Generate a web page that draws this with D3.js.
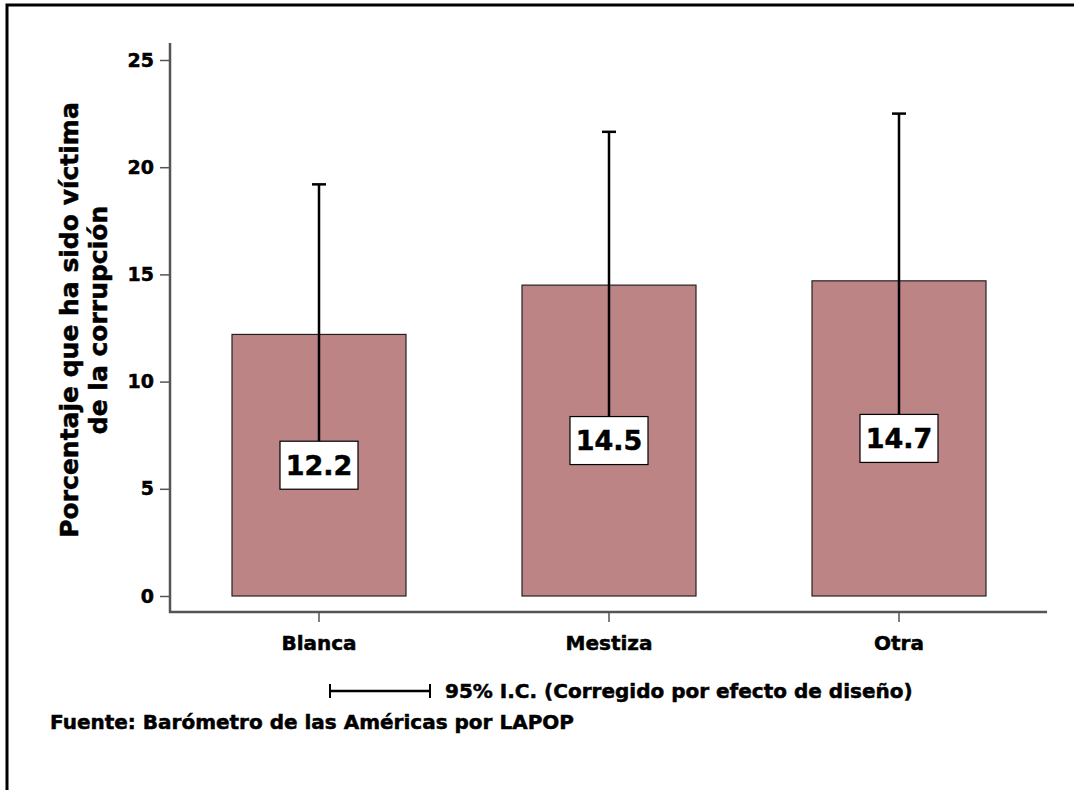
<!DOCTYPE html>
<html>
<head>
<meta charset="utf-8">
<script src="https://cdn.jsdelivr.net/npm/d3@7"></script>
<style>
  body { margin: 0; background: #fff; }
  text { font-family: "DejaVu Sans", sans-serif; font-weight: bold; fill: #000; stroke: #000; stroke-width: 0.5px; }
</style>
</head>
<body>
<div id="chart"></div>
<script>
// data
const categories = ["Blanca", "Mestiza", "Otra"];
const means = [12.2, 14.5, 14.7];
const ciUpper = [19.2, 21.65, 22.5];
const ciLower = [5.2, 7.35, 6.9];
const yTicks = [0, 5, 10, 15, 20, 25];

const width = 1074, height = 790;

const svg = d3.select("#chart")
  .append("svg")
    .attr("width", width)
    .attr("height", height);

// outer frame (runs off right and bottom)
svg.append("path")
  .attr("d", "M7,792 L7,5 L1076,5")
  .attr("fill", "none")
  .attr("stroke", "#000")
  .attr("stroke-width", 3);

// scales
const y = d3.scaleLinear()
  .domain([0, 25])
  .range([596, 60]);

const x = d3.scaleBand()
  .domain(categories)
  .range([174, 1044])
  .paddingInner(0.4)
  .paddingOuter(0.2);

// Y axis
const yAxis = svg.append("g")
  .attr("transform", "translate(170,0)")
  .call(d3.axisLeft(y).tickValues(yTicks).tickSize(10).tickPadding(6));
yAxis.select(".domain").remove();
yAxis.selectAll(".tick line").attr("stroke", "#555").attr("stroke-width", 1.5);
yAxis.selectAll("text").style("font-size", "19px");

svg.append("line")
  .attr("x1", 170).attr("x2", 170)
  .attr("y1", 43).attr("y2", 613)
  .attr("stroke", "#555").attr("stroke-width", 2.5);

// X axis
const xAxis = svg.append("g")
  .attr("transform", "translate(0,612)")
  .call(d3.axisBottom(x).tickSize(10).tickPadding(14));
xAxis.select(".domain").remove();
xAxis.selectAll(".tick line").attr("stroke", "#555").attr("stroke-width", 1.5);
xAxis.selectAll("text").style("font-size", "20px");

svg.append("line")
  .attr("x1", 169).attr("x2", 1047)
  .attr("y1", 612).attr("y2", 612)
  .attr("stroke", "#555").attr("stroke-width", 2.5);

// bars
svg.selectAll("rect.bar")
  .data(categories)
  .enter()
  .append("rect")
    .attr("class", "bar")
    .attr("x", d => x(d))
    .attr("y", (d, i) => y(means[i]))
    .attr("width", x.bandwidth())
    .attr("height", (d, i) => y(0) - y(means[i]))
    .attr("fill", "#bc8485")
    .attr("stroke", "#222")
    .attr("stroke-width", 1.2);

// error bars
const cx = d => x(d) + x.bandwidth() / 2;
svg.selectAll("line.err")
  .data(categories)
  .enter()
  .append("line")
    .attr("class", "err")
    .attr("x1", cx).attr("x2", cx)
    .attr("y1", (d, i) => y(ciLower[i]))
    .attr("y2", (d, i) => y(ciUpper[i]))
    .attr("stroke", "#000").attr("stroke-width", 2.5);

svg.selectAll("line.cap")
  .data(categories)
  .enter()
  .append("line")
    .attr("class", "cap")
    .attr("x1", d => cx(d) - 7).attr("x2", d => cx(d) + 7)
    .attr("y1", (d, i) => y(ciUpper[i]))
    .attr("y2", (d, i) => y(ciUpper[i]))
    .attr("stroke", "#000").attr("stroke-width", 2.5);

// value labels at half bar height
const lab = svg.selectAll("g.lab")
  .data(categories)
  .enter()
  .append("g")
    .attr("class", "lab")
    .attr("transform", (d, i) => `translate(${cx(d)},${y(means[i] / 2)})`);

lab.append("rect")
  .attr("x", -39).attr("y", -24)
  .attr("width", 78).attr("height", 48)
  .attr("fill", "#fff")
  .attr("stroke", "#000").attr("stroke-width", 1.2);

lab.append("text")
  .attr("text-anchor", "middle")
  .attr("dy", "0.36em")
  .style("font-size", "27px")
  .text((d, i) => means[i].toFixed(1));

// y axis title
const yt = svg.append("text")
  .attr("transform", "translate(78,320) rotate(-90)")
  .attr("text-anchor", "middle")
  .style("font-size", "25px");
yt.append("tspan").attr("x", 0).attr("dy", 0).text("Porcentaje que ha sido víctima");
yt.append("tspan").attr("x", 0).attr("dy", 29).text("de la corrupción");

// legend for confidence interval
svg.append("line")
  .attr("x1", 330).attr("x2", 430).attr("y1", 691).attr("y2", 691)
  .attr("stroke", "#000").attr("stroke-width", 2.5);
[330, 430].forEach(px => {
  svg.append("line")
    .attr("x1", px).attr("x2", px).attr("y1", 684).attr("y2", 698)
    .attr("stroke", "#000").attr("stroke-width", 2);
});
svg.append("text")
  .attr("x", 445).attr("y", 698)
  .style("font-size", "20px")
  .text("95% I.C. (Corregido por efecto de diseño)");

// source note
svg.append("text")
  .attr("x", 50).attr("y", 729)
  .style("font-size", "20px")
  .text("Fuente: Barómetro de las Américas por LAPOP");
</script>
</body>
</html>
